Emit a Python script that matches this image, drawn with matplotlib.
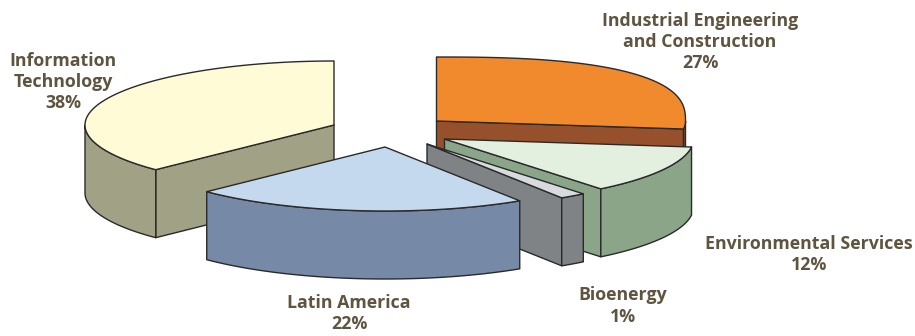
import numpy as np
import matplotlib
matplotlib.use("Agg")
import matplotlib.pyplot as plt
from matplotlib.patches import Polygon

plt.rcParams['font.family'] = ['Open Sans', 'DejaVu Sans']

# clockwise from 12 o'clock
regions = ['Industrial Engineering\nand Construction', 'Environmental Services', 'Bioenergy', 'Latin America', 'Information\nTechnology']
shares = [27.0, 12.2, 1.7, 21.8, 37.3]
share_labels = ['27%', '12%', '1%', '22%', '38%']

top_colors = ['#F1892D', '#E3F0DF', '#D9DADD', '#C5D9EE', '#FFFBD6']
side_colors = ['#96512C', '#8AA587', '#7F8386', '#7689A6', '#A0A185']

# apex of every exploded slice, in pixels
apex_x = [436.5, 444.5, 427, 385, 334]
apex_y = [121, 139, 144, 147, 125]
# the orange slice is drawn fuller than a true ellipse
fullness = [2.6, 2, 2, 2, 2]
label_x = [700, 809, 623, 349, 63]
label_y = [42, 254.5, 306, 313.5, 82]

RX = 249
RY = 64
DEPTH = 68
EDGE = '#2a2a2a'


def rim(cx, cy, a, b, n=60, full=2):
    t = np.deg2rad(np.linspace(a, b, n))
    s, c = np.sin(t), np.cos(t)
    # only the back right quarter gets squared off
    back = (s >= 0) & (c > 0)
    s = np.where(back, np.abs(s)**(2/full), s)
    c = np.where(back, np.abs(c)**(2/full), c)
    return np.column_stack([cx + RX*s, cy - RY*c])


def draw_slice(ax, cx, cy, a, b, top, side, full):
    # side cut facing the viewer
    for ang, visible in ((b, b < 180), (a, a > 180)):
        if visible:
            p = rim(cx, cy, ang, ang, 1)[0]
            pts = [(cx, cy), p, (p[0], p[1]+DEPTH), (cx, cy+DEPTH)]
            ax.add_patch(Polygon(pts, fc=side, ec=EDGE, lw=1, joinstyle='round'))
    # outer wall, only the front half shows
    lo, hi = max(a, 90), min(b, 270)
    if lo < hi:
        r = rim(cx, cy, lo, hi)
        pts = np.vstack([r, r[::-1] + [0, DEPTH]])
        ax.add_patch(Polygon(pts, fc=side, ec=EDGE, lw=1, joinstyle='round'))
    pts = np.vstack([[(cx, cy)], rim(cx, cy, a, b, 120, full)])
    ax.add_patch(Polygon(pts, fc=top, ec=EDGE, lw=1, joinstyle='round'))


fig = plt.figure(figsize=(9.15, 3.36), dpi=100)
ax = fig.add_axes([0, 0, 1, 1])
ax.set_xlim(0, 915)
ax.set_ylim(336, 0)
ax.axis('off')

edges = np.concatenate([[0], np.cumsum(shares)]) / np.sum(shares) * 360

# back to front
for i in [4, 0, 1, 2, 3]:
    draw_slice(ax, apex_x[i], apex_y[i], edges[i], edges[i+1], top_colors[i], side_colors[i], fullness[i])

for i in range(len(regions)):
    ax.text(label_x[i], label_y[i], regions[i] + '\n' + share_labels[i], ha='center', va='center',
            fontsize=12.75, fontweight='bold', color='#5E543F', linespacing=1.22)

fig.savefig('out.png', dpi=100)
